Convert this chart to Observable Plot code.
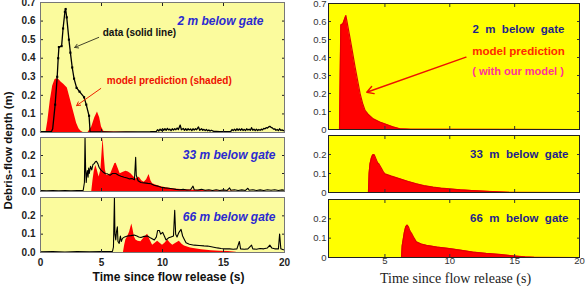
<!DOCTYPE html>
<html><head><meta charset="utf-8">
<script src="https://cdn.jsdelivr.net/npm/d3@7"></script>
<script src="https://cdn.jsdelivr.net/npm/@observablehq/plot@0.6"></script>
<style>
html,body{margin:0;padding:0;background:#fff;}
#chart{position:relative;width:588px;height:286px;overflow:hidden;}
#chart svg{position:absolute;left:0;top:0;}
</style></head><body><div id="chart"></div>
<script>
// ---------- tick labels ----------
const leftXTicks = [0, 5, 10, 15, 20];
const rightXTicks = [5, 10, 15, 20];
const yTicksTall = [0, 0.1, 0.2, 0.3, 0.4, 0.5, 0.6, 0.7];
const yTicksShort = [0, 0.1, 0.2];
const panelLabelsLeft = ["2 m below gate", "33 m below gate", "66 m below gate"];
const panelLabelsRight = ["2\u00a0 m\u00a0 below\u00a0 gate", "33\u00a0 m\u00a0 below\u00a0 gate", "66\u00a0 m\u00a0 below\u00a0 gate"];

// ---------- left chart: measured data [time s, depth m] ----------
const data2m = [[0,0.005],[0.5,0.005],[0.9,0.005],[1.0,0.02],[1.2,0.15],[1.37,0.30],[1.45,0.40],[1.51,0.46],[1.73,0.465],[1.85,0.56],[2.0,0.65],[2.06,0.665],[2.15,0.62],[2.33,0.50],[2.45,0.43],[2.6,0.35],[2.75,0.29],[2.96,0.24],[3.2,0.22],[3.57,0.19],[3.75,0.15],[3.98,0.09],[4.03,0.04],[4.06,0.005],[5,0.003],[6,0.002],[7,0.003],[8,0.003],[9,0.004],[9.5,0.006],[9.6,0.015],[9.7,0.008],[9.8,0.018],[9.9,0.01],[10.0,0.02],[10.1,0.012],[10.2,0.02],[10.3,0.012],[10.4,0.022],[10.5,0.014],[10.6,0.018],[10.7,0.01],[10.8,0.02],[10.9,0.013],[11.0,0.02],[11.1,0.015],[11.2,0.024],[11.3,0.016],[11.45,0.04],[11.55,0.015],[11.7,0.022],[11.8,0.012],[11.9,0.02],[12.0,0.012],[12.1,0.02],[12.2,0.014],[12.3,0.019],[12.4,0.01],[12.5,0.02],[12.6,0.013],[12.7,0.02],[12.8,0.015],[12.95,0.03],[13.05,0.012],[13.2,0.02],[13.3,0.012],[13.4,0.017],[13.5,0.01],[13.6,0.016],[13.7,0.009],[13.8,0.014],[13.9,0.008],[14.0,0.012],[14.2,0.006],[14.4,0.006],[14.7,0.004],[15.0,0.004],[15.3,0.005],[15.6,0.006],[15.7,0.016],[15.8,0.01],[15.9,0.018],[16.0,0.01],[16.1,0.02],[16.2,0.012],[16.3,0.019],[16.4,0.012],[16.5,0.02],[16.6,0.011],[16.7,0.017],[16.8,0.01],[16.9,0.02],[17.0,0.013],[17.1,0.018],[17.2,0.012],[17.3,0.026],[17.4,0.012],[17.5,0.018],[17.6,0.01],[17.7,0.018],[17.8,0.011],[17.9,0.016],[18.0,0.012],[18.1,0.018],[18.2,0.014],[18.3,0.022],[18.4,0.02],[18.5,0.026],[18.6,0.024],[18.7,0.03],[18.8,0.033],[18.9,0.028],[19.0,0.025],[19.1,0.018],[19.2,0.02],[19.3,0.012],[19.4,0.016],[19.5,0.01],[19.6,0.02],[19.7,0.011],[19.8,0.014],[19.9,0.01],[20,0.012]];
const data33m = [[0,0.005],[0.5,0.004],[1,0.005],[1.5,0.004],[2,0.005],[2.5,0.004],[3,0.005],[3.5,0.006],[3.6,0.05],[3.65,0.30],[3.7,0.12],[3.75,0.05],[3.8,0.10],[3.84,0.117],[3.9,0.08],[3.95,0.13],[4.0,0.1],[4.1,0.14],[4.2,0.12],[4.3,0.15],[4.4,0.155],[4.5,0.165],[4.58,0.168],[4.7,0.155],[4.8,0.135],[4.94,0.12],[5.1,0.11],[5.3,0.10],[5.49,0.098],[5.7,0.09],[5.9,0.10],[6.17,0.10],[6.4,0.09],[6.6,0.085],[6.86,0.079],[7.1,0.075],[7.3,0.07],[7.5,0.072],[7.7,0.065],[7.8,0.19],[7.85,0.09],[8.0,0.06],[8.23,0.05],[8.5,0.048],[8.8,0.045],[9.05,0.043],[9.3,0.035],[9.6,0.03],[9.88,0.024],[10.2,0.02],[10.5,0.018],[10.8,0.015],[11.1,0.012],[11.4,0.01],[11.7,0.012],[12.0,0.008],[12.3,0.01],[12.5,0.03],[12.6,0.01],[12.9,0.008],[13.2,0.012],[13.5,0.007],[13.8,0.01],[14.1,0.006],[14.4,0.01],[14.7,0.006],[15.0,0.009],[15.3,0.006],[15.5,0.02],[15.6,0.007],[15.9,0.01],[16.2,0.006],[16.5,0.009],[16.8,0.006],[17.0,0.018],[17.1,0.007],[17.4,0.01],[17.7,0.006],[18.0,0.009],[18.3,0.006],[18.6,0.01],[18.9,0.007],[19.2,0.01],[19.5,0.006],[19.8,0.009],[20,0.007]];
const data66m = [[0,0.004],[1,0.005],[2,0.003],[3,0.005],[4,0.004],[5,0.005],[5.9,0.006],[5.98,0.03],[6.06,0.297],[6.1,0.1],[6.17,0.068],[6.22,0.11],[6.3,0.14],[6.35,0.06],[6.45,0.05],[6.55,0.09],[6.62,0.06],[6.72,0.077],[6.9,0.085],[7.13,0.09],[7.4,0.092],[7.68,0.095],[7.9,0.09],[8.05,0.085],[8.23,0.082],[8.5,0.088],[8.78,0.09],[9.0,0.08],[9.15,0.075],[9.33,0.068],[9.5,0.085],[9.6,0.12],[9.74,0.12],[9.85,0.1],[10.01,0.11],[10.15,0.09],[10.29,0.068],[10.5,0.08],[10.7,0.085],[10.9,0.09],[11.0,0.23],[11.08,0.1],[11.19,0.085],[11.35,0.11],[11.52,0.126],[11.65,0.09],[11.8,0.07],[11.93,0.053],[12.2,0.045],[12.6,0.04],[13.0,0.038],[13.4,0.036],[13.7,0.035],[14.1,0.03],[14.5,0.025],[14.8,0.022],[15.1,0.02],[15.5,0.02],[15.8,0.018],[16.1,0.02],[16.3,0.06],[16.4,0.02],[16.7,0.018],[17.0,0.02],[17.3,0.04],[17.4,0.02],[17.7,0.018],[18.0,0.022],[18.3,0.02],[18.6,0.025],[18.8,0.04],[18.95,0.025],[19.2,0.02],[19.5,0.02],[19.6,0.1],[19.7,0.02],[19.9,0.015],[20,0.015]];

// ---------- left chart: model prediction (shaded) ----------
const model2m = [[0.45,0],[0.6,0.06],[0.8,0.17],[1.0,0.25],[1.2,0.285],[1.35,0.29],[1.5,0.285],[1.7,0.27],[1.9,0.26],[2.2,0.24],[2.4,0.19],[2.6,0.14],[2.8,0.09],[2.96,0.05],[3.15,0.02],[3.3,0.008],[3.5,0],[3.9,0],[4.2,0.03],[4.45,0.08],[4.67,0.11],[4.85,0.08],[5.0,0.03],[5.2,0.005],[6,0.003],[7.5,0.002],[8,0]];
const model33m = [[4.2,0],[4.3,0.06],[4.4,0.11],[4.53,0.144],[4.65,0.12],[4.8,0.08],[4.95,0.12],[5.05,0.22],[5.13,0.298],[5.22,0.2],[5.32,0.12],[5.43,0.089],[5.6,0.092],[5.76,0.098],[5.95,0.13],[6.1,0.155],[6.2,0.157],[6.35,0.13],[6.53,0.098],[6.75,0.105],[7.0,0.113],[7.2,0.108],[7.41,0.098],[7.6,0.085],[7.82,0.07],[7.95,0.075],[8.1,0.079],[8.3,0.06],[8.5,0.052],[8.7,0.065],[8.9,0.094],[9.05,0.06],[9.19,0.043],[9.5,0.035],[9.9,0.027],[10.4,0.02],[11,0.014],[11.8,0.01],[12.5,0.007],[13.2,0.006],[14,0.004],[15,0.003],[15.9,0.002],[16,0]];
const model66m = [[6.8,0],[6.9,0.04],[7.0,0.07],[7.13,0.085],[7.3,0.11],[7.42,0.14],[7.49,0.155],[7.6,0.12],[7.7,0.085],[7.82,0.068],[8.0,0.062],[8.23,0.058],[8.5,0.08],[8.78,0.10],[9.0,0.065],[9.19,0.04],[9.4,0.05],[9.6,0.062],[9.8,0.05],[10.0,0.04],[10.2,0.05],[10.43,0.068],[10.65,0.05],[10.84,0.04],[11.1,0.05],[11.38,0.062],[11.6,0.045],[11.8,0.035],[12.3,0.025],[12.8,0.019],[13.2,0.015],[14,0.01],[14.7,0.007],[15.4,0.005],[16,0.002],[16.1,0]];

// ---------- right chart: model prediction (with our model) ----------
const ours2m = [[1.5,0],[1.55,0.3],[1.6,0.58],[1.76,0.587],[1.99,0.633],[2.15,0.57],[2.32,0.504],[2.5,0.43],[2.7,0.346],[2.9,0.27],[3.09,0.198],[3.3,0.14],[3.47,0.106],[3.7,0.085],[4.1,0.059],[4.6,0.042],[5.13,0.028],[5.6,0.015],[6.15,0.004],[7,0.001],[20,0]];
const ours33m = [[3.73,0],[3.78,0.1],[3.85,0.15],[3.95,0.18],[4.05,0.197],[4.16,0.2],[4.26,0.185],[4.36,0.168],[4.45,0.155],[4.54,0.15],[4.65,0.137],[4.75,0.125],[4.88,0.108],[5.0,0.098],[5.5,0.086],[6.15,0.072],[6.8,0.058],[7.42,0.046],[8.0,0.036],[8.7,0.028],[9.3,0.023],[9.97,0.019],[10.8,0.014],[11.7,0.01],[12.8,0.006],[13.8,0.003],[14.5,0.001],[20,0]];
const ours66m = [[6.28,0],[6.33,0.06],[6.4,0.089],[6.5,0.13],[6.6,0.158],[6.71,0.168],[6.8,0.16],[6.9,0.142],[6.97,0.133],[7.05,0.125],[7.12,0.116],[7.25,0.1],[7.42,0.081],[7.8,0.07],[8.19,0.063],[9.0,0.054],[9.97,0.046],[10.9,0.037],[11.76,0.028],[12.8,0.021],[13.8,0.016],[14.8,0.009],[15.8,0.003],[16.5,0.001],[20,0]];

// ---------- drawing ----------
const W = 588, H = 286;
const T = d => d[0], V = d => d[1];
const sansL = "'Liberation Sans', Arial, sans-serif";

function panel({frame: [l, t, r, b], xDomain, yDomain, bg, border, xTicks, yTicks, yFmt, xFmt, tickStyle, xPad, yPad, marks}) {
  const p = Plot.plot({
    width: W, height: H,
    marginLeft: l, marginTop: t, marginRight: W - r, marginBottom: H - b,
    x: {domain: xDomain}, y: {domain: yDomain},
    style: {background: "none", fontFamily: sansL, overflow: "visible"},
    marks: [
      Plot.frame({fill: bg}),
      ...marks,
      Plot.axisY(yTicks, {anchor: "left", tickSize: -3, tickPadding: yPad, tickFormat: yFmt, label: null, ...tickStyle}),
      Plot.axisY(yTicks, {anchor: "right", tickSize: -3, tickFormat: () => "", label: null, color: tickStyle.color}),
      Plot.axisX(xTicks, {anchor: "bottom", tickSize: -3, tickPadding: xPad, tickFormat: xFmt || (() => ""), label: null, ...tickStyle}),
      Plot.axisX(xTicks, {anchor: "top", tickSize: -3, tickFormat: () => "", label: null, color: tickStyle.color}),
      Plot.frame({stroke: border, strokeWidth: 1})
    ]
  });
  document.getElementById("chart").appendChild(p);
}

// Left chart
const leftStyle = {fontSize: 10, fontWeight: "bold", color: "#222"};
const leftBg = "#fbfb9d", leftBorder = "#777";
const blueLbl = {fill: "#2a2ad0", fontWeight: "bold", fontStyle: "italic", fontSize: 12, textAnchor: "end"};

panel({frame: [40, 2, 284, 132], xDomain: [0, 20], yDomain: [0, 0.7], bg: leftBg, border: leftBorder,
  xTicks: leftXTicks, yTicks: yTicksTall, yFmt: d => d.toFixed(1), tickStyle: leftStyle, xPad: 9, yPad: 8,
  marks: [
    Plot.areaY(model2m, {x: T, y: V, fill: "#ff0000"}),
    Plot.line(data2m, {x: T, y: V, stroke: "#000", strokeWidth: 1.3}),
    Plot.dot(data2m.filter(d => d[1] > 0.05), {x: T, y: V, r: 1.2, fill: "#000", symbol: "square"}),
    Plot.text([panelLabelsLeft[0]], {frameAnchor: "top-right", dx: -21, dy: 14, text: d => d, ...blueLbl}),
    Plot.text(["data (solid line)"], {x: 5.1, y: 0.538, text: d => d, textAnchor: "start", fontWeight: "bold", fontSize: 10, fill: "#111"}),
    Plot.arrow([0], {x1: 4.77, y1: 0.512, x2: 2.8, y2: 0.458, stroke: "#44442a", strokeWidth: 1, headLength: 6}),
    Plot.text(["model prediction (shaded)"], {x: 5.43, y: 0.28, text: d => d, textAnchor: "start", fontWeight: "bold", fontSize: 10, fill: "#ee1100"}),
    Plot.arrow([0], {x1: 4.94, y1: 0.237, x2: 2.96, y2: 0.145, stroke: "#ee2200", strokeWidth: 1, headLength: 6})
  ]});

panel({frame: [40, 137, 284, 191], xDomain: [0, 20], yDomain: [0, 0.3], bg: leftBg, border: leftBorder,
  xTicks: leftXTicks, yTicks: yTicksShort, yFmt: d => d.toFixed(1), tickStyle: leftStyle, xPad: 9, yPad: 8,
  marks: [
    Plot.areaY(model33m, {x: T, y: V, fill: "#ff0000"}),
    Plot.line(data33m, {x: T, y: V, stroke: "#000", strokeWidth: 1.1}),
    Plot.text([panelLabelsLeft[1]], {frameAnchor: "top-right", dx: -9, dy: 13, text: d => d, ...blueLbl}),
    Plot.text(["Debris-flow depth (m)"], {frameAnchor: "left", dx: -32, dy: -14, rotate: -90, textAnchor: "middle", lineAnchor: "middle", text: d => d, fontWeight: "bold", fontSize: 11.5, fill: "#111"})
  ]});

panel({frame: [40, 197, 284, 252], xDomain: [0, 20], yDomain: [0, 0.3], bg: leftBg, border: leftBorder,
  xTicks: leftXTicks, yTicks: yTicksShort, yFmt: d => d.toFixed(1), xFmt: d => String(d), tickStyle: leftStyle, xPad: 9, yPad: 8,
  marks: [
    Plot.areaY(model66m, {x: T, y: V, fill: "#ff0000"}),
    Plot.line(data66m, {x: T, y: V, stroke: "#000", strokeWidth: 1.1}),
    Plot.text([panelLabelsLeft[2]], {frameAnchor: "top-right", dx: -9, dy: 15, text: d => d, ...blueLbl}),
    Plot.text(["Time since flow release (s)"], {frameAnchor: "bottom", dx: 6, dy: 25, textAnchor: "middle", lineAnchor: "middle", text: d => d, fontWeight: "bold", fontSize: 12, fill: "#111"})
  ]});

// Right chart
const rightStyle = {fontSize: 9.5, fontWeight: "normal", color: "#333"};
const rightBg = "#ffff00", rightBorder = "#222";
const navyLbl = {fill: "#1f1f8a", fontWeight: "bold", fontSize: 11.5, textAnchor: "end"};
const rFmt = d => String(d);

panel({frame: [328, 3, 579, 129], xDomain: [0.65, 20], yDomain: [0, 0.7], bg: rightBg, border: rightBorder,
  xTicks: rightXTicks, yTicks: yTicksTall, yFmt: rFmt, tickStyle: rightStyle, xPad: 3, yPad: 5,
  marks: [
    Plot.areaY(ours2m, {x: T, y: V, fill: "#ff0000"}),
    Plot.line(ours2m, {x: T, y: V, stroke: "#e00000", strokeWidth: 1.2}),
    Plot.text([panelLabelsRight[0]], {frameAnchor: "top-right", dx: -15, dy: 21, text: d => d, ...navyLbl}),
    Plot.text(["model prediction"], {x: 11.73, y: 0.433, text: d => d, textAnchor: "start", fontWeight: "bold", fontSize: 11.5, fill: "#ff2a00"}),
    Plot.text(["( with our model )"], {x: 11.73, y: 0.322, text: d => d, textAnchor: "start", fontWeight: "bold", fontSize: 11, fill: "#ff3399"}),
    Plot.arrow([0], {x1: 11.25, y1: 0.402, x2: 3.6, y2: 0.207, stroke: "#ee1100", strokeWidth: 1.4, headLength: 8})
  ]});

panel({frame: [328, 135, 579, 192], xDomain: [0.65, 20], yDomain: [0, 0.3], bg: rightBg, border: rightBorder,
  xTicks: rightXTicks, yTicks: yTicksShort, yFmt: rFmt, tickStyle: rightStyle, xPad: 3, yPad: 5,
  marks: [
    Plot.areaY(ours33m, {x: T, y: V, fill: "#ff0000"}),
    Plot.line(ours33m, {x: T, y: V, stroke: "#e00000", strokeWidth: 1.2}),
    Plot.text([panelLabelsRight[1]], {frameAnchor: "top-right", dx: -11, dy: 14, text: d => d, ...navyLbl})
  ]});

panel({frame: [328, 199, 579, 257], xDomain: [0.65, 20], yDomain: [0, 0.3], bg: rightBg, border: rightBorder,
  xTicks: rightXTicks, yTicks: yTicksShort, yFmt: rFmt, xFmt: d => String(d), tickStyle: rightStyle, xPad: 3, yPad: 5,
  marks: [
    Plot.areaY(ours66m, {x: T, y: V, fill: "#ff0000"}),
    Plot.line(ours66m, {x: T, y: V, stroke: "#e00000", strokeWidth: 1.2}),
    Plot.text([panelLabelsRight[2]], {frameAnchor: "top-right", dx: -11, dy: 14, text: d => d, ...navyLbl}),
    Plot.text(["Time since flow release (s)"], {frameAnchor: "bottom", dx: 1.5, dy: 21, textAnchor: "middle", lineAnchor: "middle", text: d => d, fontFamily: "'Liberation Serif', 'DejaVu Serif', serif", fontSize: 14, fill: "#222"})
  ]});
</script></body></html>
